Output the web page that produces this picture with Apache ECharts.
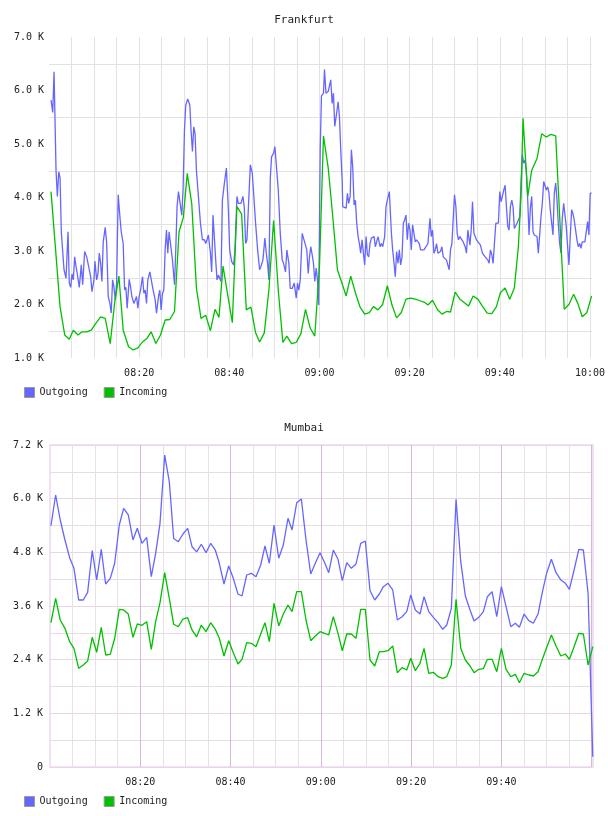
<!DOCTYPE html>
<html>
<head>
<meta charset="utf-8">
<script src="https://cdn.jsdelivr.net/npm/echarts@6/dist/echarts.min.js"></script>
<style>
  html, body { margin: 0; padding: 0; background: #fff; }
  #chart { width: 608px; height: 816px; }
</style>
</head>
<body>
<div id="chart"></div>
<script>
// x values are minutes after 08:00
const frankOut = [[0.45,5820],[0.83,5590],[1.12,6350],[1.56,4510],[1.85,4020],[2.16,4480],[2.45,4370],[2.73,3360],[3.33,2650],[3.77,2490],[4.22,3360],[4.50,2400],[4.81,2320],[5.10,2570],[5.39,2460],[5.70,2890],[5.99,2710],[6.28,2570],[6.72,2320],[7.16,2740],[7.47,2370],[7.91,2990],[8.36,2890],[8.80,2710],[9.24,2520],[9.53,2240],[9.97,2460],[10.19,2810],[10.57,2460],[10.86,2570],[11.15,2960],[11.46,2770],[11.74,2430],[12.03,3170],[12.47,3440],[12.78,3170],[13.14,2150],[13.51,2020],[13.80,1840],[14.11,2460],[14.40,2330],[14.69,2090],[15.00,2400],[15.35,4050],[15.73,3640],[16.02,3360],[16.46,3140],[16.77,2270],[17.06,2320],[17.34,1930],[17.79,2470],[18.10,2330],[18.38,2150],[18.83,2020],[19.11,1990],[19.42,2150],[19.71,1930],[20.00,2150],[20.31,2270],[20.75,2520],[21.04,2210],[21.33,2270],[21.64,2020],[21.92,2460],[22.37,2610],[22.66,2580],[23.10,2270],[23.54,2090],[23.85,1840],[24.29,2150],[24.58,2270],[24.87,1900],[25.18,2210],[25.47,2270],[25.76,3020],[26.06,3390],[26.35,2960],[26.64,3360],[27.08,3360],[27.39,2830],[27.84,2370],[28.12,3020],[28.41,3830],[28.72,4110],[29.16,4110],[29.45,3670],[29.74,4140],[30.05,5260],[30.34,5730],[30.78,5840],[31.23,5730],[31.51,5260],[31.82,4860],[32.11,5320],[32.40,5200],[32.71,4500],[33.15,4020],[33.59,3520],[34.03,3210],[34.48,3210],[34.76,3140],[35.05,3210],[35.36,3300],[35.81,2960],[36.09,2610],[36.38,3670],[36.69,3700],[36.98,2830],[37.27,2460],[37.58,2550],[37.86,2490],[38.15,2430],[38.46,3950],[38.91,4270],[39.35,4550],[39.79,3770],[40.08,3020],[40.52,2800],[40.96,2740],[41.25,3020],[41.69,4020],[42.00,3890],[42.29,3920],[42.58,3890],[43.02,4020],[43.33,3800],[43.62,3140],[43.91,3210],[44.35,3210],[44.66,4610],[45.10,4450],[45.39,4080],[45.83,3520],[46.28,3020],[46.72,2650],[47.01,2710],[47.45,2830],[47.89,3240],[48.20,2960],[48.49,2770],[48.78,2460],[49.09,4360],[49.37,4760],[49.82,4830],[50.11,4950],[50.55,4920],[50.86,4140],[51.30,3330],[51.74,2830],[52.03,2770],[52.47,2610],[52.76,3020],[53.21,2770],[53.51,2300],[53.96,2300],[54.40,2400],[54.84,2120],[55.13,2400],[55.42,2270],[55.73,2460],[56.17,3330],[56.46,3240],[56.90,3240],[57.19,3020],[57.50,2580],[57.79,2890],[58.07,3080],[58.38,2930],[58.67,2770],[58.96,2430],[59.27,2680],[59.56,2460],[59.84,1990],[60.16,4890],[60.44,5900],[60.89,5950],[61.11,6390],[61.44,5950],[61.93,5980],[62.21,5950],[62.50,6200],[62.81,5760],[63.10,5950],[63.39,5330],[63.70,5510],[64.14,5790],[64.43,5510],[64.72,4890],[65.03,4330],[65.16,3830],[65.60,3800],[65.91,3800],[66.20,4080],[66.49,3890],[66.80,4020],[67.08,4890],[67.37,4580],[67.68,3860],[67.97,3950],[68.26,3520],[68.57,3270],[68.85,3140],[69.14,2960],[69.45,3210],[69.74,2960],[70.03,2740],[70.34,3270],[70.63,2930],[70.91,2890],[71.22,3140],[71.51,3240],[71.80,3210],[72.11,3270],[72.40,3080],[72.68,3170],[72.99,3270],[73.44,3080],[73.73,3140],[74.02,3080],[74.46,3270],[74.76,3830],[75.05,3950],[75.50,4110],[75.94,3360],[76.23,3020],[76.54,2770],[76.82,2520],[77.11,2990],[77.42,2770],[77.71,3020],[78.00,2740],[78.31,2890],[78.60,3520],[78.88,3580],[79.19,3670],[79.48,3210],[79.77,3520],[80.08,3390],[80.37,3020],[80.66,3490],[80.97,3520],[81.25,3170],[81.54,3210],[81.85,3210],[82.14,3140],[82.43,3020],[82.73,3050],[83.18,3020],[83.62,3020],[84.06,3140],[84.51,3610],[84.79,3270],[85.08,3390],[85.39,2960],[85.68,3020],[85.97,3140],[86.28,2960],[86.56,2930],[86.85,2990],[87.16,3080],[87.45,2890],[87.89,2860],[88.18,2830],[88.49,2800],[88.77,2650],[89.06,3020],[89.38,3140],[89.66,3170],[89.95,4050],[90.26,3830],[90.55,3330],[90.84,3210],[91.15,3270],[91.59,3240],[91.88,3170],[92.32,3080],[92.61,2960],[92.92,3390],[93.37,3110],[93.66,3390],[93.95,3920],[94.26,3330],[94.54,3300],[94.83,3210],[95.27,3190],[95.71,3110],[96.15,2960],[96.46,2960],[96.75,2890],[97.03,2860],[97.35,2830],[97.63,2770],[97.92,3020],[98.23,2930],[98.52,2770],[98.81,3140],[99.12,3520],[99.40,3490],[99.69,3520],[100.00,4110],[100.29,3920],[100.58,3920],[100.89,4140],[101.18,4230],[101.47,3830],[101.77,3460],[102.06,3390],[102.35,3830],[102.66,3950],[102.94,3830],[103.23,3420],[103.54,3420],[103.83,3520],[104.12,3550],[104.43,3640],[104.71,4270],[105.00,4800],[105.31,4640],[105.60,4700],[105.89,4510],[106.20,3950],[106.49,3300],[106.78,3800],[107.08,4020],[107.37,3360],[107.66,3300],[107.97,3330],[108.26,3270],[108.55,2960],[108.86,2930],[109.14,3640],[109.43,3890],[109.74,4300],[110.03,4270],[110.32,4140],[110.63,4200],[110.91,4080],[111.20,3770],[111.51,3520],[111.80,3300],[112.09,4080],[112.40,4270],[112.69,3950],[112.97,3520],[113.28,3140],[113.57,2960],[113.86,3610],[114.17,3890],[114.45,3920],[114.74,3460],[115.05,3080],[115.34,2740],[115.63,3270],[115.94,3770],[116.23,3700],[116.51,3580],[116.82,3390],[117.11,3210],[117.40,3080],[117.71,3140],[118.00,3050],[118.29,3170],[118.60,3140],[118.88,3170],[119.17,3140],[119.48,3550],[119.77,3300],[120.06,4080],[120.37,4080]]

const frankIn = [[0.45,4110],[2.45,1960],[3.49,1430],[4.50,1350],[5.39,1520],[6.43,1430],[7.32,1490],[8.36,1490],[9.37,1520],[10.42,1650],[11.46,1770],[12.47,1740],[13.58,1270],[14.55,2020],[15.51,2530],[16.46,1520],[17.65,1210],[18.67,1150],[19.71,1190],[20.75,1300],[21.77,1370],[22.66,1490],[23.70,1270],[24.74,1430],[25.76,1710],[26.80,1720],[27.84,1870],[28.85,3360],[29.78,3620],[30.67,4450],[31.67,3880],[32.71,2300],[33.72,1740],[34.76,1800],[35.81,1510],[36.82,1910],[37.71,1760],[38.60,2720],[39.64,2180],[40.67,1660],[41.69,3830],[42.73,3690],[43.77,1900],[44.79,1950],[45.83,1470],[46.72,1300],[47.76,1470],[48.78,2270],[49.82,3570],[50.86,2270],[51.88,1290],[52.76,1410],[53.80,1270],[54.84,1290],[55.86,1450],[56.90,1910],[57.94,1560],[58.96,1410],[60.00,2710],[60.89,5150],[61.93,4560],[62.94,3650],[63.98,2650],[64.87,2430],[65.91,2160],[66.93,2530],[67.97,2220],[69.01,1950],[70.03,1820],[71.07,1850],[71.95,1960],[72.99,1900],[74.01,2000],[75.05,2350],[76.09,1990],[77.11,1750],[78.15,1850],[79.19,2100],[80.21,2120],[81.25,2100],[82.29,2070],[83.31,2040],[84.06,1990],[85.08,2080],[86.12,1910],[87.16,1820],[88.18,1870],[89.06,1860],[90.10,2230],[91.15,2100],[92.03,2040],[93.05,1970],[94.09,2160],[95.13,2100],[96.15,1970],[97.19,1840],[98.23,1830],[99.25,1960],[100.13,2220],[101.17,2310],[102.21,2100],[103.23,2310],[104.12,3080],[104.71,4020],[105.16,5480],[106.20,4020],[107.08,4510],[108.26,4730],[109.30,5190],[110.32,5130],[111.36,5180],[112.40,5150],[114.30,1910],[115.34,2000],[116.38,2190],[117.27,2030],[118.29,1770],[119.32,1850],[120.37,2160]]

const mumbaiTime = [0.21,1.25,2.27,3.31,4.35,5.31,6.35,7.37,8.34,9.36,10.34,11.36,12.33,13.35,14.33,15.35,16.32,17.34,18.38,19.34,20.38,21.42,22.44,23.41,24.37,25.41,26.43,27.40,28.42,29.46,30.50,31.46,32.50,33.52,34.56,35.60,36.62,37.51,38.55,39.59,40.61,41.65,42.54,43.58,44.60,45.64,46.68,47.63,48.59,49.63,50.67,51.69,52.73,53.62,54.66,55.68,56.72,57.76,58.78,59.82,60.86,61.75,62.77,63.81,64.76,65.74,66.76,67.80,68.84,69.86,70.90,71.94,72.96,73.85,74.89,75.93,76.95,78.00,79.04,79.92,80.94,81.98,82.87,83.91,84.93,85.97,87.01,87.90,88.92,89.96,91.00,92.02,93.06,93.95,94.99,96.01,96.90,97.94,98.98,100.00,101.04,102.08,103.10,103.99,105.03,106.07,107.09,108.13,109.02,110.06,111.08,112.12,113.16,114.18,115.07,116.11,117.15,118.17,119.21,120.25]

const mumbaiOut = [5395,6082,5523,5076,4680,4443,3734,3734,3906,4837,4182,4868,4092,4219,4555,5411,5784,5635,5076,5337,5002,5136,4256,4778,5449,6976,6380,5109,5038,5210,5337,4926,4810,4980,4792,5002,4852,4555,4092,4494,4219,3868,3824,4293,4331,4256,4517,4942,4555,5411,4667,4964,5561,5300,5910,5993,5076,4316,4555,4792,4568,4345,4852,4644,4166,4568,4443,4540,5002,5054,3942,3734,3868,4032,4107,3958,3287,3361,3473,3846,3511,3421,3808,3473,3347,3227,3079,3175,3548,5986,4591,3824,3511,3265,3347,3473,3808,3920,3361,4032,3585,3137,3213,3124,3421,3272,3213,3421,3884,4345,4644,4345,4182,4107,3973,4405,4868,4852,3884,230]

const mumbaiIn = [3227,3772,3287,3101,2802,2654,2207,2281,2370,2900,2565,3124,2504,2520,2878,3526,3511,3421,2900,3198,3168,3249,2632,3249,3674,4345,3772,3191,3137,3309,3339,3064,2910,3175,3026,3227,3079,2878,2482,2824,2556,2303,2408,2780,2765,2690,2974,3227,2802,3660,3153,3421,3623,3473,3920,3920,3287,2824,2929,3026,2989,2952,3361,2989,2600,2974,2974,2878,3526,3526,2393,2258,2578,2578,2600,2706,2109,2221,2169,2431,2154,2319,2654,2095,2117,2019,1983,2019,2281,3750,2654,2393,2258,2109,2184,2198,2408,2408,2131,2654,2184,2019,2072,1885,2095,2057,2035,2131,2393,2677,2952,2706,2482,2527,2408,2690,2989,2974,2281,2690]

// minutes after 08:00 that get a time label
const frankTimeLabels = [20, 40, 60, 80, 100, 120]
const mumbaiTimeLabels = [20, 40, 60, 80, 100]

const FONT = 'DejaVu Sans Mono'
const OUT_COLOR = '#6666ff'
const IN_COLOR = '#00c000'

const hhmm = (m) => {
  const h = 8 + Math.floor(m / 60)
  const mm = m % 60
  return String(h).padStart(2, '0') + ':' + String(mm).padStart(2, '0')
}

const timeFormatter = (labels) => (v) => labels.includes(v) ? hhmm(v) : ''

const myChart = echarts.init(document.getElementById('chart'))

const option = {
  animation: false,
  backgroundColor: '#fff',
  textStyle: { fontFamily: FONT },
  title: [
    { text: 'Frankfurt', left: 'center', top: 15, padding: 0,
      textStyle: { fontFamily: FONT, fontSize: 11, fontWeight: 'normal', color: '#222' } },
    { text: 'Mumbai', left: 'center', top: 423, padding: 0,
      textStyle: { fontFamily: FONT, fontSize: 11, fontWeight: 'normal', color: '#222' } }
  ],
  legend: [
    { left: 24, top: 387, padding: 0, icon: 'rect', itemWidth: 10, itemHeight: 10, itemGap: 16,
      itemStyle: { borderColor: '#999', borderWidth: 1 },
      textStyle: { fontFamily: FONT, fontSize: 10, color: '#222' },
      data: ['Outgoing', 'Incoming'] },
    { left: 24, top: 796, padding: 0, icon: 'rect', itemWidth: 10, itemHeight: 10, itemGap: 16,
      itemStyle: { borderColor: '#999', borderWidth: 1 },
      textStyle: { fontFamily: FONT, fontSize: 10, color: '#222' },
      data: ['Outgoing', 'Incoming'] }
  ],
  grid: [
    { left: 49, right: 15, top: 37, height: 321 },
    { left: 50, right: 15, top: 445, height: 322, show: true, borderColor: '#f0e2f0', borderWidth: 2 }
  ],
  xAxis: [
    {
      type: 'value', gridIndex: 0, min: 0, max: 120.5, interval: 5,
      axisLine: { show: false }, axisTick: { show: false },
      axisLabel: { formatter: timeFormatter(frankTimeLabels), margin: 10, fontFamily: FONT, fontSize: 10, color: '#222' },
      splitLine: { show: true, showMinLine: false, showMaxLine: false, lineStyle: { color: '#e2e2e2', width: 1 } }
    },
    {
      type: 'value', gridIndex: 1, min: 0, max: 120.3, interval: 5,
      axisLine: { show: false }, axisTick: { show: false },
      axisLabel: { formatter: timeFormatter(mumbaiTimeLabels), margin: 10, fontFamily: FONT, fontSize: 10, color: '#222' },
      splitLine: { show: true, showMinLine: false, showMaxLine: false,
        lineStyle: { color: ['#e6e1e6', '#e6e1e6', '#e6e1e6', '#d6b8d6'], width: 1 } }
    }
  ],
  yAxis: [
    {
      type: 'value', gridIndex: 0, min: 1000, max: 7000, interval: 500,
      axisLine: { show: false }, axisTick: { show: false },
      axisLabel: {
        margin: 5, fontFamily: FONT, fontSize: 10, color: '#222',
        formatter: (v) => v % 1000 === 0 ? (v / 1000).toFixed(1) + ' K' : ''
      },
      // grid lines sit halfway between the labelled values
      splitLine: { show: true, lineStyle: { color: ['rgba(0,0,0,0)', '#e2e2e2'], width: 1 } }
    },
    {
      type: 'value', gridIndex: 1, min: 0, max: 7200, interval: 600,
      axisLine: { show: false }, axisTick: { show: false },
      axisLabel: {
        margin: 7, fontFamily: FONT, fontSize: 10, color: '#222',
        formatter: (v) => v % 1200 !== 0 ? '' : (v === 0 ? '0' : (v / 1000).toFixed(1) + ' K')
      },
      splitLine: { show: true, lineStyle: { color: ['#e8d6e8', '#e2dee2'], width: 1 } }
    }
  ],
  series: [
    { name: 'Outgoing', type: 'line', xAxisIndex: 0, yAxisIndex: 0, showSymbol: false,
      lineStyle: { width: 1.3, color: OUT_COLOR }, itemStyle: { color: OUT_COLOR }, data: frankOut },
    { name: 'Incoming', type: 'line', xAxisIndex: 0, yAxisIndex: 0, showSymbol: false,
      lineStyle: { width: 1.3, color: IN_COLOR }, itemStyle: { color: IN_COLOR }, data: frankIn },
    { name: 'Outgoing', type: 'line', xAxisIndex: 1, yAxisIndex: 1, showSymbol: false,
      lineStyle: { width: 1.3, color: OUT_COLOR }, itemStyle: { color: OUT_COLOR },
      data: mumbaiTime.map((t, i) => [t, mumbaiOut[i]]) },
    { name: 'Incoming', type: 'line', xAxisIndex: 1, yAxisIndex: 1, showSymbol: false,
      lineStyle: { width: 1.3, color: IN_COLOR }, itemStyle: { color: IN_COLOR },
      data: mumbaiTime.map((t, i) => [t, mumbaiIn[i]]) }
  ]
}

myChart.setOption(option)
</script>
</body>
</html>
